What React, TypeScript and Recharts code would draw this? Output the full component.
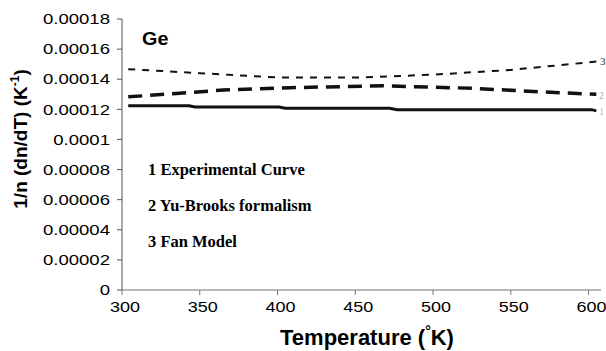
import { ComposedChart, Line, XAxis, YAxis } from "recharts";

// temperature (K), 1/n dn/dT (K^-1)
const experimental = [
  { t: 304, v: 0.0001224 },
  { t: 343, v: 0.0001224 },
  { t: 347, v: 0.0001215 },
  { t: 401, v: 0.0001215 },
  { t: 405, v: 0.0001207 },
  { t: 472, v: 0.0001207 },
  { t: 477, v: 0.0001198 },
  { t: 602, v: 0.0001198 },
  { t: 605, v: 0.000119 }
];

const yuBrooks = [
  { t: 304, v: 0.0001283 },
  { t: 335, v: 0.0001305 },
  { t: 365, v: 0.0001328 },
  { t: 408, v: 0.0001344 },
  { t: 468, v: 0.0001356 },
  { t: 525, v: 0.000134 },
  { t: 568, v: 0.0001317 },
  { t: 605, v: 0.00013 }
];

const fanModel = [
  { t: 304, v: 0.0001467 },
  { t: 350, v: 0.000144 },
  { t: 400, v: 0.0001412 },
  { t: 450, v: 0.0001411 },
  { t: 500, v: 0.000143 },
  { t: 550, v: 0.0001462 },
  { t: 605, v: 0.0001517 }
];

const xTicks = [300, 350, 400, 450, 500, 550, 600];
const yTicks = [0, 0.00002, 0.00004, 0.00006, 0.00008, 0.0001, 0.00012, 0.00014, 0.00016, 0.00018];
const legendLines = ["1 Experimental Curve", "2 Yu-Brooks formalism", "3 Fan Model"];

const sans = "'Liberation Sans', Arial, sans-serif";
const serif = "'Liberation Serif', 'Times New Roman', serif";

const fmtY = (v: number) => (v === 0 ? "0" : v.toFixed(5).replace(/0+$/, ""));

// the source figure's tick text is a bit wider than plain Arial
function YTick({ x, y, payload }: any) {
  return (
    <text
      transform={`translate(${x},${y}) scale(1.28,1)`}
      textAnchor="end"
      dy="0.36em"
      fontSize={14.5}
      fontFamily={sans}
      fill="#000"
    >
      {fmtY(payload.value)}
    </text>
  );
}

function XTick({ x, y, payload }: any) {
  return (
    <text
      transform={`translate(${x + 3},${y}) scale(1.2,1)`}
      textAnchor="middle"
      dy="0.75em"
      fontSize={15}
      fontFamily={sans}
      fill="#000"
    >
      {payload.value}
    </text>
  );
}

export default function App() {
  return (
    <div style={{ position: "absolute", left: 0, top: 0, width: 606, height: 351, background: "#fff" }}>
      <ComposedChart
        width={606}
        height={351}
        margin={{ top: 19, right: 5, bottom: 0, left: 0 }}
      >
        <XAxis
          dataKey="t"
          type="number"
          domain={[300, 608]}
          ticks={xTicks}
          height={61}
          allowDataOverflow
          stroke="#777"
          tickSize={5}
          tickMargin={6}
          tick={<XTick />}
        />
        <YAxis
          type="number"
          domain={[0, 0.00018]}
          ticks={yTicks}
          width={122}
          stroke="#555"
          tickSize={5}
          tickMargin={7}
          tick={<YTick />}
        />
        <Line
          data={fanModel}
          dataKey="v"
          type="linear"
          stroke="#111"
          strokeWidth={2}
          strokeDasharray="7 7"
          dot={false}
          isAnimationActive={false}
        />
        <Line
          data={yuBrooks}
          dataKey="v"
          type="linear"
          stroke="#111"
          strokeWidth={3.5}
          strokeDasharray="14 8"
          dot={false}
          isAnimationActive={false}
        />
        <Line
          data={experimental}
          dataKey="v"
          type="linear"
          stroke="#111"
          strokeWidth={3}
          dot={false}
          isAnimationActive={false}
        />
      </ComposedChart>

      <div
        style={{
          position: "absolute",
          left: 142,
          top: 29,
          fontFamily: sans,
          fontWeight: "bold",
          fontSize: 18,
          lineHeight: "20px",
          transform: "scaleX(1.1)",
          transformOrigin: "left"
        }}
      >
        Ge
      </div>
      {legendLines.map((s, i) => (
        <div
          key={s}
          style={{
            position: "absolute",
            left: 148,
            top: 160 + i * 35.75,
            fontFamily: serif,
            fontWeight: "bold",
            fontSize: 16.5,
            lineHeight: "20px",
            whiteSpace: "nowrap"
          }}
        >
          {s}
        </div>
      ))}
      <div style={{ position: "absolute", left: 600, top: 55, fontFamily: serif, fontSize: 11, lineHeight: "13px", color: "#333" }}>3</div>
      <div style={{ position: "absolute", left: 599, top: 90, fontFamily: serif, fontSize: 10, lineHeight: "12px", color: "#aaa" }}>2</div>
      <div style={{ position: "absolute", left: 599, top: 106, fontFamily: serif, fontSize: 10, lineHeight: "12px", color: "#bbb" }}>1</div>

      <div
        style={{
          position: "absolute",
          left: 20,
          top: 139,
          transform: "translate(-50%, -50%) rotate(-90deg)",
          fontFamily: sans,
          fontWeight: "bold",
          fontSize: 19,
          whiteSpace: "nowrap"
        }}
      >
        1/n (dn/dT) (K<sup style={{ fontSize: 12 }}>-1</sup>)
      </div>
      <div
        style={{
          position: "absolute",
          left: 367,
          top: 337,
          transform: "translate(-50%, -50%)",
          fontFamily: sans,
          fontWeight: "bold",
          fontSize: 22,
          whiteSpace: "nowrap"
        }}
      >
        Temperature (<sup style={{ fontSize: 14 }}>°</sup>K)
      </div>
    </div>
  );
}
